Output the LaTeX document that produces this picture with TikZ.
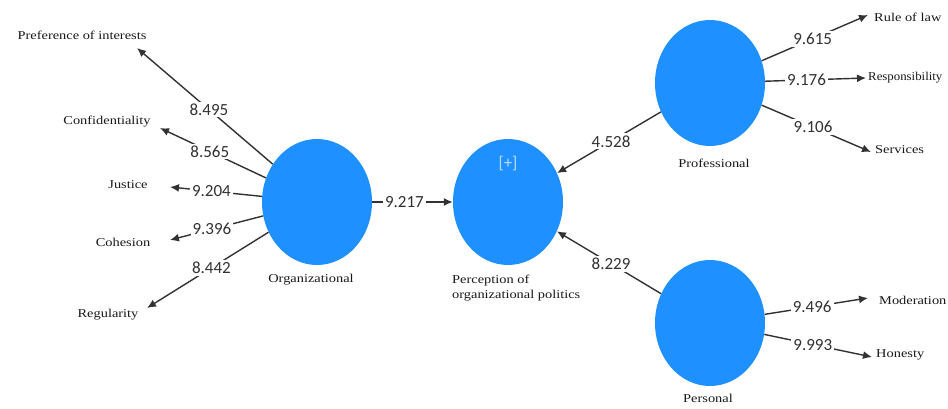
\documentclass[tikz,border=0pt]{standalone}
\usepackage{fontspec}
\setmainfont{Liberation Serif}
\newfontfamily\numfont{Carlito}
\newfontfamily\lblfont[FakeStretch=1.2]{Liberation Serif}
\newfontfamily\lblnarrow[FakeStretch=1.07]{Liberation Serif}
\usetikzlibrary{arrows.meta,shapes.geometric}
\definecolor{lvblue}{RGB}{30,144,255}
\definecolor{lngray}{RGB}{50,50,50}
\begin{document}
\begin{tikzpicture}[x=1pt,y=-1pt,
  lv/.style={ellipse, fill=lvblue, draw=none, minimum width=110pt, minimum height=126pt, inner sep=0pt},
  lbltext/.style={font=\lblfont\fontsize{12}{15}\selectfont, text=black!90, inner sep=1pt},
  num/.style={font=\numfont\fontsize{17}{20}\selectfont, text=lngray, fill=white, inner sep=2pt},
  plus/.style={font=\numfont\fontsize{17}{20}\selectfont, text=white!70!lvblue, inner sep=0pt},
  conn/.style={draw=lngray, line width=1.4pt, -{Latex[length=9pt,width=8pt]}}]
\useasboundingbox (0,0) rectangle (948,409);
% latent variables
\node[lv] (org) at (317,202) {};
\node[lv] (perc) at (508,202) {};
\node[lv] (prof) at (710,83) {};
\node[lv] (pers) at (710,323) {};
\node[plus] (plus) at (508,164) {[+]};
% captions
\node[lbltext] (orgc) at (311,280) {Organizational};
\node[lbltext, align=left, anchor=north west] (percc) at (451,274) {Perception of\\organizational politics};
\node[lbltext] (profc) at (714,163) {Professional};
\node[lbltext] (persc) at (708,398) {Personal};
% indicators
\node[lbltext] (pref) at (82,35) {Preference of interests};
\node[lbltext] (conf) at (107,122) {Confidentiality};
\node[lbltext] (just) at (128,185) {Justice};
\node[lbltext] (coh) at (123,242) {Cohesion};
\node[lbltext] (reg) at (108,315) {Regularity};
\node[lbltext, anchor=west] (rule) at (873,17) {Rule of law};
\node[lbltext, anchor=west, font=\lblnarrow\fontsize{12}{15}\selectfont] (resp) at (867,78) {Responsibility};
\node[lbltext, anchor=west] (serv) at (874,150) {Services};
\node[lbltext, anchor=west] (mod) at (878,300) {Moderation};
\node[lbltext, anchor=west] (hon) at (875,355) {Honesty};
% arrow tips
\coordinate (tpref) at (137,48);
\coordinate (tconf) at (160,128);
\coordinate (tjust) at (170,187);
\coordinate (tcoh) at (170,240);
\coordinate (treg) at (147,308);
\coordinate (trule) at (868,15);
\coordinate (tresp) at (866,78);
\coordinate (tserv) at (871,152);
\coordinate (tmod) at (868,298);
\coordinate (thon) at (872,357);
% connectors
\draw[conn] (org) -- node[num,pos=.47]{8.495} (tpref);
\draw[conn] (org) -- node[num,pos=.53]{8.565} (tconf);
\draw[conn] (org) -- node[num,pos=.55]{9.204} (tjust);
\draw[conn] (org) -- node[num,pos=.55]{9.396} (tcoh);
\draw[conn] (org) -- node[num,pos=.47]{8.442} (treg);
\draw[conn] (org) -- node[num,pos=.4]{9.217} (perc);
\draw[conn] (prof) -- node[num,pos=.48]{4.528} (perc);
\draw[conn] (pers) -- node[num,pos=.48]{8.229} (perc);
\draw[conn] (prof) -- node[num,pos=.48]{9.615} (trule);
\draw[conn] (prof) -- node[num,pos=.41]{9.176} (tresp);
\draw[conn] (prof) -- node[num,pos=.47]{9.106} (tserv);
\draw[conn] (pers) -- node[num,pos=.46]{9.496} (tmod);
\draw[conn] (pers) -- node[num,pos=.45]{9.993} (thon);
\end{tikzpicture}
\end{document}
